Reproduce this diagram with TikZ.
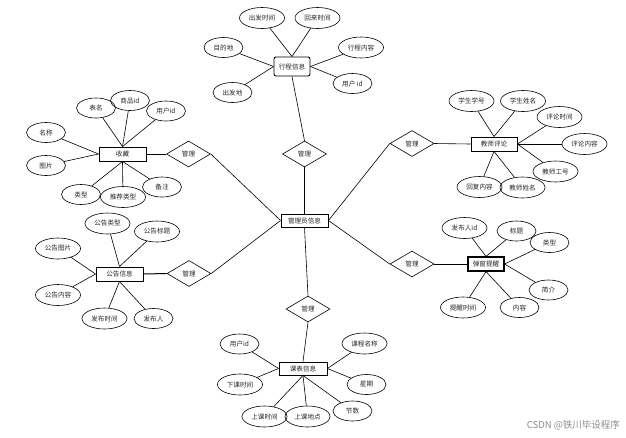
\documentclass[tikz,border=0pt]{standalone}
\usepackage{fontspec}
\newfontfamily\cjk{Noto Sans CJK SC}
\usetikzlibrary{shapes.geometric}
\tikzset{
  base/.style={font=\cjk\fontsize{6.6}{7}\selectfont, inner sep=0pt, text=black!85},
  ent/.style={base, draw, line width=0.9pt, rectangle, minimum width=47pt, minimum height=14pt},
  attr/.style={base, draw, line width=0.6pt, ellipse, minimum width=39pt, minimum height=20pt},
  attrw/.style={attr, minimum width=45pt, minimum height=21pt},
  rel/.style={base, draw, line width=0.6pt, diamond, minimum width=44pt, minimum height=26pt},
  conn/.style={line width=0.6pt},
}
\begin{document}
\begin{tikzpicture}[x=1pt,y=-1pt]
\useasboundingbox (0,0) rectangle (626,437);
% entities
\node[ent, rounded corners=2pt, minimum width=36pt, minimum height=19pt] (xc) at (292,66.5) {行程信息};
\node[ent] (sc) at (122.5,154) {收藏};
\node[ent, minimum width=46pt] (jp) at (494,144) {教师评论};
\node[ent] (gg) at (119.5,274) {公告信息};
\node[ent, minimum height=13pt] (gly) at (304.5,220.5) {管理员信息};
\node[ent, minimum width=36pt, line width=1.1pt] (tc) at (486,264) {弹窗提醒};
\node[ent, minimum width=48pt, minimum height=13pt] (kb) at (303,368.5) {课表信息};
% relations
\node[rel] (d1) at (188.5,154) {管理};
\node[rel] (d2) at (412,143.5) {管理};
\node[rel] (d3) at (189,273.5) {管理};
\node[rel] (d4) at (412,264) {管理};
\node[rel] (d5) at (304.5,154) {管理};
\node[rel] (d6) at (308,309) {管理};
% 收藏 attributes
\node[attr] (a1) at (96,108) {表名};
\node[attr] (a2) at (130,100.5) {商品id};
\node[attr] (a3) at (166,111) {用户id};
\node[attr] (a4) at (46,132.5) {名称};
\node[attr] (a5) at (46,165.5) {图片};
\node[attr] (a6) at (81,194.5) {类型};
\node[attrw] (a7) at (123,197) {推荐类型};
\node[attr] (a8) at (162,187) {备注};
% 行程信息 attributes
\node[attrw] (b1) at (262,18) {出发时间};
\node[attrw] (b2) at (317.5,18) {回来时间};
\node[attr] (b3) at (223.5,47.5) {目的地};
\node[attrw] (b4) at (361,47.5) {行程内容};
\node[attr] (b5) at (232.5,92.5) {出发地};
\node[attr] (b6) at (352.5,83.5) {用户 id};
% 教师评论 attributes
\node[attrw] (c1) at (471.5,101) {学生学号};
\node[attrw] (c2) at (523,101) {学生姓名};
\node[attrw] (c3) at (559.5,117) {评论时间};
\node[attrw] (c4) at (584.5,144) {评论内容};
\node[attrw] (c5) at (555.5,171.5) {教师工号};
\node[attrw] (c6) at (479.5,187) {回复内容};
\node[attrw] (c7) at (522.5,187.5) {教师姓名};
% 公告信息 attributes
\node[attrw] (e1) at (107.5,223.5) {公告类型};
\node[attrw] (e2) at (157,231.5) {公告标题};
\node[attrw] (e3) at (58,248.5) {公告图片};
\node[attrw] (e4) at (58,295) {公告内容};
\node[attrw] (e5) at (104.5,318.5) {发布时间};
\node[attr] (e6) at (153.5,318.5) {发布人};
% 弹窗提醒 attributes
\node[attrw] (f1) at (464.5,228) {发布人id};
\node[attr] (f2) at (516.5,231) {标题};
\node[attr] (f3) at (549.5,242.5) {类型};
\node[attr] (f4) at (548.5,290) {简介};
\node[attr] (f5) at (519.5,307.5) {内容};
\node[attrw] (f6) at (463,307.5) {提醒时间};
% 课表信息 attributes
\node[attr] (g1) at (239.5,344) {用户id};
\node[attrw] (g2) at (364.5,343.5) {课程名称};
\node[attrw] (g3) at (240,384.5) {下课时间};
\node[attr] (g4) at (366.5,384.5) {星期};
\node[attrw] (g5) at (264.5,416.5) {上课时间};
\node[attrw] (g6) at (307.5,416.5) {上课地点};
\node[attr] (g7) at (352.5,411) {节数};
% connectors
\draw[conn] (sc.north) -- (a1);
\draw[conn] (sc.north) -- (a2);
\draw[conn] (sc.north) -- (a3);
\draw[conn] (sc.west) -- (a4);
\draw[conn] (sc.west) -- (a5);
\draw[conn] (sc.south) -- (a6);
\draw[conn] (sc.south) -- (a7);
\draw[conn] (sc.south) -- (a8);
\draw[conn] (sc.east) -- (d1.west);
\draw[conn] (d1.east) -- (gly.west);
\draw[conn] (xc.north) -- (b1);
\draw[conn] (xc.north) -- (b2);
\draw[conn] (xc.west) -- (b3);
\draw[conn] (xc.west) -- (b5);
\draw[conn] (xc.east) -- (b4);
\draw[conn] (xc.east) -- (b6);
\draw[conn] (xc.south) -- (d5.north);
\draw[conn] (d5.south) -- (gly.north);
\draw[conn] (jp.north) -- (c1);
\draw[conn] (jp.north) -- (c2);
\draw[conn] (jp.east) -- (c3);
\draw[conn] (jp.east) -- (c4);
\draw[conn] (jp.east) -- (c5);
\draw[conn] (jp.south) -- (c6);
\draw[conn] (jp.south) -- (c7);
\draw[conn] (jp.west) -- (d2.east);
\draw[conn] (d2.west) -- (gly.east);
\draw[conn] (gg.north) -- (e1);
\draw[conn] (gg.north) -- (e2);
\draw[conn] (gg.west) -- (e3);
\draw[conn] (gg.west) -- (e4);
\draw[conn] (gg.south) -- (e5);
\draw[conn] (gg.south) -- (e6);
\draw[conn, line width=1pt] (gg.east) -- (d3.west);
\draw[conn] (d3.east) -- (gly.west);
\draw[conn] (tc.north) -- (f1);
\draw[conn] (tc.north) -- (f2);
\draw[conn] (tc.east) -- (f3);
\draw[conn] (tc.east) -- (f4);
\draw[conn] (tc.south) -- (f5);
\draw[conn] (tc.south) -- (f6);
\draw[conn, line width=1pt] (tc.west) -- (d4.east);
\draw[conn] (d4.west) -- (gly.east);
\draw[conn] (gly.south) -- (d6.north);
\draw[conn] (d6.south) -- (kb.north);
\draw[conn] (kb.west) -- (g1);
\draw[conn] (kb.west) -- (g3);
\draw[conn] (kb.east) -- (g2);
\draw[conn] (kb.east) -- (g4);
\draw[conn] (kb.south) -- (g5);
\draw[conn] (kb.south) -- (g6);
\draw[conn] (kb.south) -- (g7);
% watermark
\node[font=\cjk\fontsize{9.5}{10}\selectfont, text=black!45, anchor=east, inner sep=0pt] (wm) at (620,425) {CSDN @铁川毕设程序};
\end{tikzpicture}
\end{document}
